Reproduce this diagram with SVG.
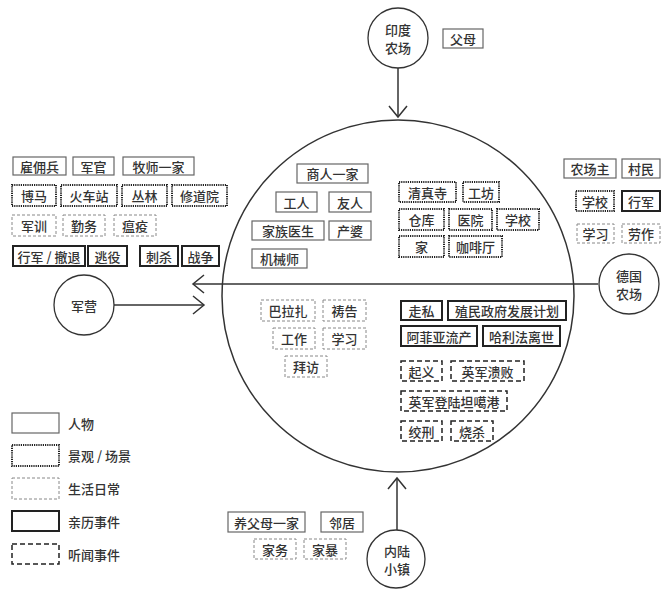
<svg xmlns="http://www.w3.org/2000/svg" width="663" height="594" viewBox="0 0 663 594">
<style>
text{font-family:"Noto Sans CJK SC","Noto Sans",sans-serif;font-size:13px;font-weight:500;fill:#333;text-anchor:middle;dominant-baseline:central}
.lg text{text-anchor:start}
rect{fill:#fff}
.p{stroke:#666;stroke-width:1.2}
.s{stroke:#222;stroke-width:2;stroke-dasharray:1.2 1}
.d{stroke:#888;stroke-width:1;stroke-dasharray:3 2}
.e{stroke:#222;stroke-width:2}
.h{stroke:#222;stroke-width:1.5;stroke-dasharray:5 3}
.c{fill:#fff;stroke:#333;stroke-width:1.3}
.ln{fill:none;stroke:#333;stroke-width:1.5}
</style>
<defs>
<marker id="ah" markerUnits="userSpaceOnUse" markerWidth="24" markerHeight="24" viewBox="-14 -12 16 24" refX="0" refY="0" orient="auto">
<path d="M-11,-9 L0,0 L-11,9" fill="none" stroke="#333" stroke-width="1.5"/>
</marker>
</defs>
<g id="hub"><circle cx="398" cy="296" r="176" fill="none" stroke="#333" stroke-width="1.5"/></g>
<g id="connectors">
<line class="ln" x1="398" y1="68" x2="398" y2="117" marker-end="url(#ah)"/>
<line class="ln" x1="598" y1="284" x2="193" y2="284" marker-end="url(#ah)"/>
<line class="ln" x1="114" y1="305" x2="204" y2="305" marker-end="url(#ah)"/>
<line class="ln" x1="397" y1="530" x2="397" y2="478" marker-end="url(#ah)"/>
</g>
<g id="india"><circle class="c" cx="398" cy="38" r="30"/><text x="398" y="29">印度</text><text x="398" y="47">农场</text></g>
<g id="germany"><circle class="c" cx="629" cy="284" r="30"/><text x="629" y="275">德国</text><text x="629" y="293">农场</text></g>
<g id="camp"><circle class="c" cx="84" cy="305" r="30"/><text x="84" y="305">军营</text></g>
<g id="town"><circle class="c" cx="396" cy="559" r="29"/><text x="397" y="550">内陆</text><text x="397" y="568">小镇</text></g>

<g id="n-fumu"><rect class="p" x="443" y="29" width="40" height="19"/><text x="463" y="38.5">父母</text></g>

<g id="n-yongbing"><rect class="p" x="13" y="157" width="53" height="18"/><text x="39.5" y="166">雇佣兵</text></g>
<g id="n-junguan"><rect class="p" x="73" y="157" width="41" height="18"/><text x="93.5" y="166">军官</text></g>
<g id="n-mushi"><rect class="p" x="123" y="157" width="71" height="18"/><text x="158.5" y="166">牧师一家</text></g>
<g id="n-boma"><rect class="s" x="12" y="185" width="44" height="21"/><text x="34" y="195.5">博马</text></g>
<g id="n-huochezhan"><rect class="s" x="61" y="185" width="56" height="21"/><text x="89" y="195.5">火车站</text></g>
<g id="n-conglin"><rect class="s" x="122" y="185" width="45" height="21"/><text x="144.5" y="195.5">丛林</text></g>
<g id="n-xiudaoyuan"><rect class="s" x="172" y="185" width="55" height="21"/><text x="199.5" y="195.5">修道院</text></g>
<g id="n-junxun"><rect class="d" x="12" y="215" width="44" height="21"/><text x="34" y="225.5">军训</text></g>
<g id="n-qinwu"><rect class="d" x="63" y="215" width="42" height="21"/><text x="84" y="225.5">勤务</text></g>
<g id="n-wenyi"><rect class="d" x="114" y="215" width="42" height="21"/><text x="135" y="225.5">瘟疫</text></g>
<g id="n-xingjun"><rect class="e" x="13" y="246" width="72" height="20"/><text x="49" y="256">行军 / 撤退</text></g>
<g id="n-taoyi"><rect class="e" x="88" y="246" width="39" height="20"/><text x="107.5" y="256">逃役</text></g>
<g id="n-cisha"><rect class="e" x="140" y="246" width="38" height="20"/><text x="159" y="256">刺杀</text></g>
<g id="n-zhanzheng"><rect class="e" x="182" y="246" width="37" height="20"/><text x="200.5" y="256">战争</text></g>

<g id="n-shangren"><rect class="p" x="297" y="164" width="71" height="19"/><text x="332.5" y="173.5">商人一家</text></g>
<g id="n-gongren"><rect class="p" x="276" y="192" width="41" height="20"/><text x="296.5" y="202">工人</text></g>
<g id="n-youren"><rect class="p" x="329" y="192" width="42" height="20"/><text x="350" y="202">友人</text></g>
<g id="n-yisheng"><rect class="p" x="252" y="221" width="72" height="19"/><text x="288" y="230.5">家族医生</text></g>
<g id="n-chanpo"><rect class="p" x="329" y="221" width="42" height="19"/><text x="350" y="230.5">产婆</text></g>
<g id="n-jixieshi"><rect class="p" x="252" y="249" width="55" height="19"/><text x="279.5" y="258.5">机械师</text></g>

<g id="n-qingzhensi"><rect class="s" x="399" y="182" width="57" height="20"/><text x="427.5" y="192">清真寺</text></g>
<g id="n-gongfang"><rect class="s" x="463" y="182" width="36" height="20"/><text x="481" y="192">工坊</text></g>
<g id="n-cangku"><rect class="s" x="399" y="209" width="45" height="21"/><text x="421.5" y="219.5">仓库</text></g>
<g id="n-yiyuan"><rect class="s" x="449" y="209" width="43" height="21"/><text x="470.5" y="219.5">医院</text></g>
<g id="n-xuexiao1"><rect class="s" x="497" y="209" width="42" height="21"/><text x="518" y="219.5">学校</text></g>
<g id="n-jia"><rect class="s" x="399" y="236" width="45" height="21"/><text x="421.5" y="246.5">家</text></g>
<g id="n-kafeiting"><rect class="s" x="449" y="236" width="53" height="21"/><text x="475.5" y="246.5">咖啡厅</text></g>

<g id="n-nongchangzhu"><rect class="p" x="564" y="159" width="52" height="19"/><text x="590" y="168.5">农场主</text></g>
<g id="n-cunmin"><rect class="p" x="622" y="159" width="38" height="19"/><text x="641" y="168.5">村民</text></g>
<g id="n-xuexiao2"><rect class="s" x="576" y="191" width="38" height="20"/><text x="595" y="201">学校</text></g>
<g id="n-xingjun2"><rect class="e" x="622" y="191" width="38" height="20"/><text x="641" y="201">行军</text></g>
<g id="n-xuexi2"><rect class="d" x="577" y="224" width="37" height="19"/><text x="595.5" y="233.5">学习</text></g>
<g id="n-laozuo"><rect class="d" x="622" y="224" width="38" height="19"/><text x="641" y="233.5">劳作</text></g>

<g id="n-balazha"><rect class="d" x="261" y="300" width="54" height="21"/><text x="288" y="310.5">巴拉扎</text></g>
<g id="n-daogao"><rect class="d" x="323" y="300" width="43" height="21"/><text x="344.5" y="310.5">祷告</text></g>
<g id="n-gongzuo"><rect class="d" x="273" y="328" width="42" height="21"/><text x="294" y="338.5">工作</text></g>
<g id="n-xuexi1"><rect class="d" x="323" y="328" width="43" height="21"/><text x="344.5" y="338.5">学习</text></g>
<g id="n-baifang"><rect class="d" x="285" y="356" width="42" height="21"/><text x="306" y="366.5">拜访</text></g>

<g id="n-zousi"><rect class="e" x="401" y="301" width="41" height="19"/><text x="421.5" y="310.5">走私</text></g>
<g id="n-jihua"><rect class="e" x="448" y="301" width="118" height="19"/><text x="507" y="310.5">殖民政府发展计划</text></g>
<g id="n-afeiya"><rect class="e" x="401" y="326" width="76" height="20"/><text x="439" y="336">阿菲亚流产</text></g>
<g id="n-halifa"><rect class="e" x="483" y="326" width="77" height="20"/><text x="521.5" y="336">哈利法离世</text></g>

<g id="n-qiyi"><rect class="h" x="401" y="361" width="41" height="20"/><text x="421.5" y="371">起义</text></g>
<g id="n-kuibai"><rect class="h" x="451" y="361" width="73" height="20"/><text x="487.5" y="371">英军溃败</text></g>
<g id="n-denglu"><rect class="h" x="401" y="391" width="106" height="20"/><text x="454" y="401">英军登陆坦噶港</text></g>
<g id="n-jiaoxing"><rect class="h" x="401" y="421" width="41" height="20"/><text x="421.5" y="431">绞刑</text></g>
<g id="n-shaosha"><rect class="h" x="451" y="421" width="42" height="20"/><text x="472" y="431">烧杀</text></g>

<g id="n-yangfumu"><rect class="p" x="228" y="512" width="77" height="20"/><text x="266.5" y="522">养父母一家</text></g>
<g id="n-linju"><rect class="p" x="321" y="512" width="42" height="20"/><text x="342" y="522">邻居</text></g>
<g id="n-jiawu"><rect class="d" x="254" y="539" width="42" height="20"/><text x="275" y="549">家务</text></g>
<g id="n-jiabao"><rect class="d" x="304" y="539" width="42" height="20"/><text x="325" y="549">家暴</text></g>

<g id="legend" class="lg">
<rect class="p" x="12" y="413" width="47" height="20"/><text x="68" y="423">人物</text>
<rect class="s" x="12" y="445" width="47" height="21"/><text x="68" y="455.5">景观 / 场景</text>
<rect class="d" x="12" y="478" width="47" height="21"/><text x="68" y="488.5">生活日常</text>
<rect class="e" x="12" y="511" width="47" height="20"/><text x="68" y="521">亲历事件</text>
<rect class="h" x="12" y="544" width="47" height="20"/><text x="68" y="554">听闻事件</text>
</g>
</svg>
